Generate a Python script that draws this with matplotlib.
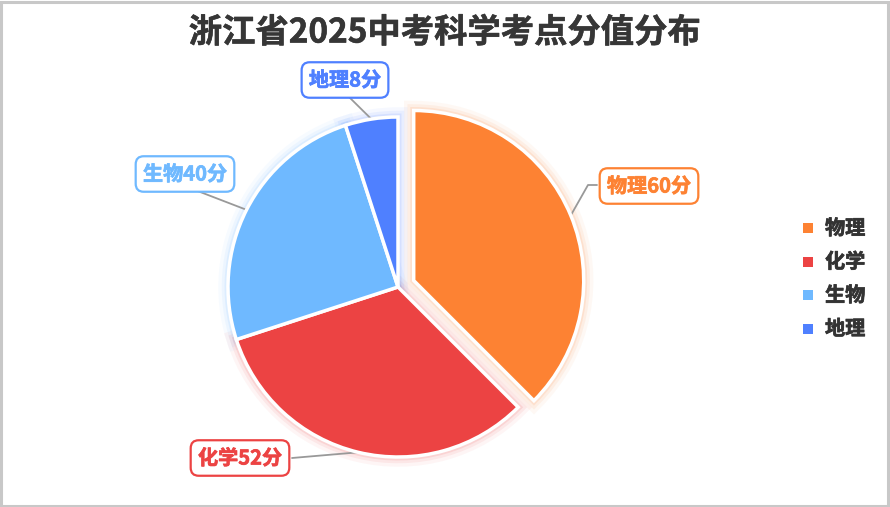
import numpy as np
import matplotlib
matplotlib.use("Agg")
import matplotlib.pyplot as plt
import matplotlib.patheffects as pe
from matplotlib.patches import Rectangle

plt.rcParams['font.family'] = ['Noto Sans CJK SC', 'DejaVu Sans']

title = "浙江省2025中考科学考点分值分布"
categories = ["物理", "化学", "生物", "地理"]
values = [60, 52, 40, 8]
colors = ["#FD8233", "#EC4343", "#6FB9FF", "#4F80FF"]
explode = [0.1, 0, 0, 0]

W, H = 890, 507
fig = plt.figure(figsize=(W / 100, H / 100), dpi=100)
ax = fig.add_axes([0, 0, 1, 1])
ax.set_aspect('equal')

def py(y):
    return H - y

cx, cy, R = 398, py(287), 170
expl_px = [e * R for e in explode]

# glow layers
for lw, a in [(14, 0.05), (9, 0.08), (5, 0.12)]:
    gw, _ = ax.pie(values, colors=colors, startangle=90, counterclock=False,
                   explode=expl_px, radius=R, center=(cx, cy), frame=True,
                   wedgeprops=dict(linewidth=lw, alpha=a, zorder=1))
    for w, c in zip(gw, colors):
        w.set_edgecolor(c)
        w.set_facecolor('none')

wedges, _ = ax.pie(values, colors=colors, startangle=90, counterclock=False,
                   explode=expl_px, radius=R, center=(cx, cy), frame=True,
                   wedgeprops=dict(edgecolor='white', linewidth=2.5, zorder=3))
ax.set_xlim(0, W)
ax.set_ylim(0, H)
ax.axis('off')

# labels
box_pos = [(649, 186), (240, 458), (185, 174), (345, 80)]
total = sum(values)
cum = 0
for i, (cat, v, c) in enumerate(zip(categories, values, colors)):
    mid = (cum + v / 2) / total * 360
    cum += v
    w = wedges[i]
    ccx, ccy = w.center
    ex = ccx + R * np.sin(np.radians(mid))
    ey = ccy + R * np.cos(np.radians(mid))
    bx, by = box_pos[i]
    if i == 0:
        xs = [ex, 588, 597]
        ys = [ey, py(185), py(185)]
    elif i == 1:
        xs = [ex, 292]
        ys = [ey, py(458)]
    elif i == 2:
        xs = [ex, 195]
        ys = [ey, py(190)]
    else:
        xs = [ex, 345]
        ys = [ey, py(93)]
    ax.plot(xs, ys, color='#999999', lw=1.3, zorder=2, solid_capstyle='round')
    t = ax.text(bx, py(by), f"{cat}{v}分", ha='center', va='center', fontsize=14.5,
                fontweight='bold', color=c, zorder=5,
                bbox=dict(boxstyle='round,pad=0.36,rounding_size=0.4', facecolor='white',
                          edgecolor=c, linewidth=1.6))
    t.set_path_effects([pe.withStroke(linewidth=0.5, foreground=c)])

# title
tt = ax.text(445, py(33), title, ha='center', va='center', fontsize=24,
             fontweight='bold', color='#363636')
tt.set_path_effects([pe.withStroke(linewidth=0.4, foreground='#363636')])

# legend
for i, (cat, c) in enumerate(zip(categories, colors)):
    yy = py(228 + i * 33.5)
    ax.add_patch(Rectangle((803, yy - 5), 10, 10, facecolor=c, edgecolor='none'))
    lt = ax.text(825, yy, cat, ha='left', va='center', fontsize=14.5,
                 fontweight='bold', color='#333333')
    lt.set_path_effects([pe.withStroke(linewidth=0.5, foreground='#333333')])

fig.patches.append(Rectangle((0.001, 0.002), 0.997, 0.995, transform=fig.transFigure,
                             fill=False, edgecolor='#c8c8c8', linewidth=2.2))

fig.savefig("out.png", dpi=100, facecolor='white')
